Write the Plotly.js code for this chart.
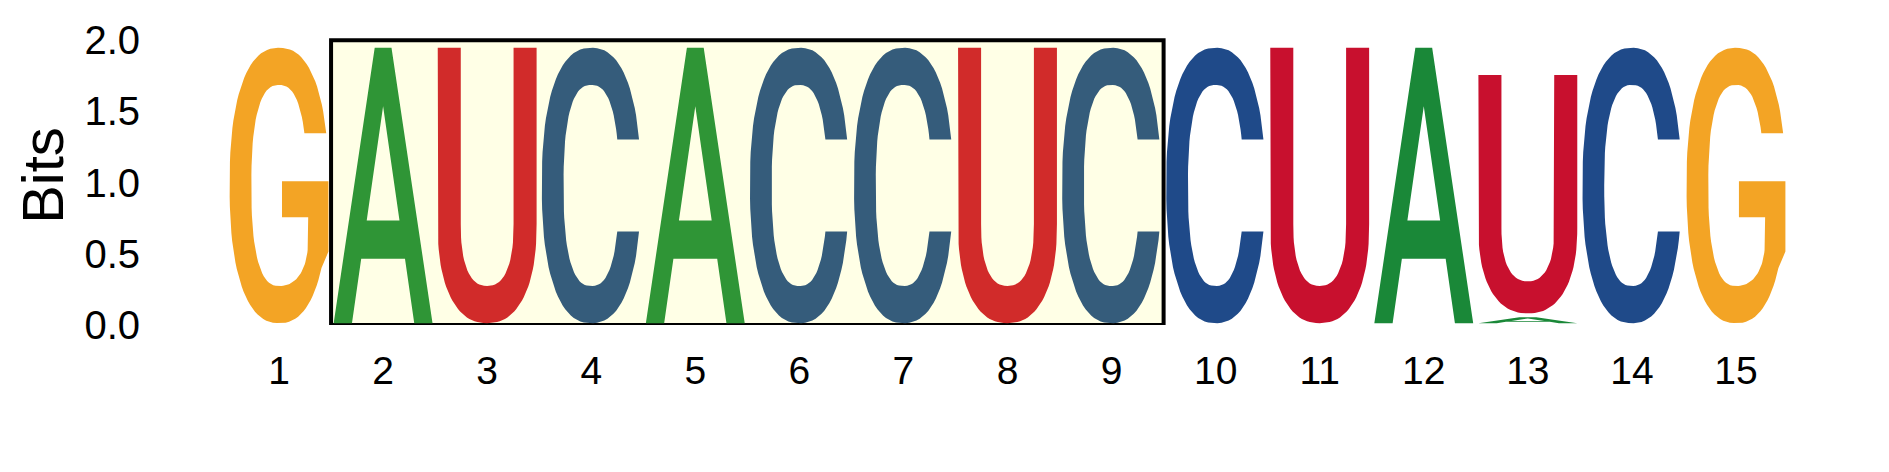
<!DOCTYPE html>
<html>
<head>
<meta charset="utf-8">
<script src="https://cdn.plot.ly/plotly-3.0.1.min.js"></script>
<style>
  html, body { margin: 0; padding: 0; background: #fff; }
  #logo { width: 1889px; height: 472px; }
</style>
</head>
<body>
<div id="logo"></div>
<script>
// sequence logo data: one column per position, an optional small letter at the bottom
const positions = [1, 2, 3, 4, 5, 6, 7, 8, 9, 10, 11, 12, 13, 14, 15];
const tickLabels = ['1', '2', '3', '4', '5', '6', '7', '8', '9', '10', '11', '12', '13', '14', '15'];
const topLetters = ['G', 'A', 'U', 'C', 'A', 'C', 'C', 'U', 'C', 'C', 'U', 'A', 'U', 'C', 'G'];
const topBits = [1.96, 1.96, 1.96, 1.96, 1.96, 1.96, 1.96, 1.96, 1.96, 1.96, 1.96, 1.96, 1.70, 1.96, 1.96];
const lowLetters = ['', '', '', '', '', '', '', '', '', '', '', '', 'A', '', ''];
const lowBits = [0, 0, 0, 0, 0, 0, 0, 0, 0, 0, 0, 0, 0.068, 0, 0];
const highlighted = [2, 9];   // first and last highlighted position
const yTicks = [0, 0.5, 1, 1.5, 2];

// styling
const colorsOut = { G: '#F3A425', A: '#1A8838', U: '#C8102E', C: '#1F4A89' };
const colorsIn = { G: '#F3A425', A: '#2F9536', U: '#D12B2A', C: '#355C7B' };
const glyphWidth = 0.95;
const vpad = 0.013;
const FONT = '"Liberation Sans", Arial, sans-serif';

// superellipse arc in the unit glyph box
function arc(e, t0, t1, steps) {
  const pts = [];
  for (let i = 0; i <= steps; i++) {
    const t = t0 + (t1 - t0) * i / steps;
    const c = Math.cos(t), s = Math.sin(t);
    pts.push([e.cx + e.rx * Math.sign(c) * Math.pow(Math.abs(c), 2 / e.n),
              e.cy + e.ry * Math.sign(s) * Math.pow(Math.abs(s), 2 / e.n)]);
  }
  return pts;
}
// angle on a superellipse where it reaches height y (right half, upper side)
function angleAt(e, y) {
  const yr = Math.min(Math.abs(y - e.cy) / e.ry, 1);
  return Math.asin(Math.pow(yr, e.n / 2));
}

const OUTER = { cx: 0.5, cy: 0.5, rx: 0.5, ry: 0.5, n: 2.35 };
const INNER = { cx: 0.5, cy: 0.5, rx: 0.28, ry: 0.365, n: 2.5 };

function glyphC() {
  const yTop = 0.667, yBot = 0.333;
  let p = arc(OUTER, angleAt(OUTER, yTop), 2 * Math.PI - angleAt(OUTER, yBot), 90);
  p = p.concat(arc(INNER, 2 * Math.PI - angleAt(INNER, yBot), angleAt(INNER, yTop), 90));
  return p;
}

function glyphG() {
  const yTop = 0.69;
  let p = arc(OUTER, angleAt(OUTER, yTop), 2 * Math.PI - angleAt(OUTER, 0.2), 90);
  p = p.concat([[1.0, 0.26], [1.0, 0.515], [0.53, 0.515], [0.53, 0.385], [0.795, 0.385]]);
  p = p.concat(arc({ cx: 0.5, cy: 0.31, rx: 0.295, ry: 0.175, n: 2.3 }, 0, -Math.PI / 2, 30));
  p = p.concat(arc(INNER, 1.5 * Math.PI, angleAt(INNER, yTop), 60));
  return p;
}

function glyphU() {
  const st = 0.233;
  const ob = { cx: 0.5, cy: 0.36, rx: 0.5, ry: 0.36, n: 2.3 };
  const ib = { cx: 0.5, cy: 0.36, rx: 0.5 - st, ry: 0.225, n: 2.4 };
  let p = [[0, 1], [0, ob.cy]];
  p = p.concat(arc(ob, Math.PI, 2 * Math.PI, 60));
  p = p.concat([[1, 1], [1 - st, 1], [1 - st, ib.cy]]);
  p = p.concat(arc(ib, 2 * Math.PI, Math.PI, 40));
  p = p.concat([[st, ib.cy], [st, 1]]);
  return p;
}

function glyphA() {
  const leg = 0.185, k = 0.4;
  const apexY = (0.5 - leg) / k;
  const barLo = 0.234, barHi = 0.373;
  const xl = y => leg + k * y;
  return [[0, 0], [0.415, 1], [0.5, 1], [0.5, apexY],
          [xl(barHi), barHi], [1 - xl(barHi), barHi], [0.5, apexY], [0.5, 1],
          [0.585, 1], [1, 0], [1 - leg, 0], [1 - xl(barLo), barLo],
          [xl(barLo), barLo], [leg, 0]];
}

const glyphs = { A: glyphA(), C: glyphC(), G: glyphG(), U: glyphU() };

function letterTrace(letter, pos, y0, y1) {
  const inBox = pos >= highlighted[0] && pos <= highlighted[1];
  const color = (inBox ? colorsIn : colorsOut)[letter];
  const pts = glyphs[letter];
  const lo = y0 + vpad, hi = y1 - vpad;
  const xs = [], ys = [];
  pts.forEach(([u, v]) => {
    xs.push(pos - glyphWidth / 2 + glyphWidth * u);
    ys.push(lo + (hi - lo) * v);
  });
  xs.push(xs[0]);
  ys.push(ys[0]);
  return {
    type: 'scatter', mode: 'lines', x: xs, y: ys,
    fill: 'toself', fillcolor: color,
    line: { width: 0, color: color },
    hoverinfo: 'skip', showlegend: false
  };
}

const traces = [];
positions.forEach((pos, i) => {
  let base = 0;
  if (lowLetters[i]) {
    traces.push(letterTrace(lowLetters[i], pos, base, base + lowBits[i]));
    base += lowBits[i];
  }
  traces.push(letterTrace(topLetters[i], pos, base, base + topBits[i]));
});

const layout = {
  width: 1889,
  height: 472,
  margin: { l: 227, r: 101, t: 26, b: 147 },
  paper_bgcolor: '#fff',
  plot_bgcolor: 'rgba(0,0,0,0)',
  showlegend: false,
  font: { family: FONT, color: '#000' },
  xaxis: {
    range: [0.5, 15.5],
    tickvals: positions,
    ticktext: tickLabels,
    tickfont: { size: 39, family: FONT, color: '#000' },
    ticklabelstandoff: 19,
    showgrid: false, zeroline: false, showline: false, ticks: '',
    fixedrange: true, automargin: false
  },
  yaxis: {
    range: [0, 2.1],
    tickvals: yTicks,
    tickformat: '.1f',
    tickfont: { size: 40, family: FONT, color: '#000' },
    ticklabelstandoff: 86,
    showgrid: false, zeroline: false, showline: false, ticks: '',
    title: { text: 'Bits', font: { size: 58, family: FONT, color: '#000' }, standoff: 2 },
    fixedrange: true, automargin: false
  },
  shapes: [{
    type: 'rect', xref: 'x', yref: 'y', layer: 'below',
    x0: highlighted[0] - 0.5, x1: highlighted[1] + 0.5, y0: 0, y1: 2.0,
    fillcolor: '#FFFFE6',
    line: { color: '#000', width: 4 }
  }]
};

Plotly.newPlot('logo', traces, layout, { staticPlot: true, displayModeBar: false });
</script>
</body>
</html>
